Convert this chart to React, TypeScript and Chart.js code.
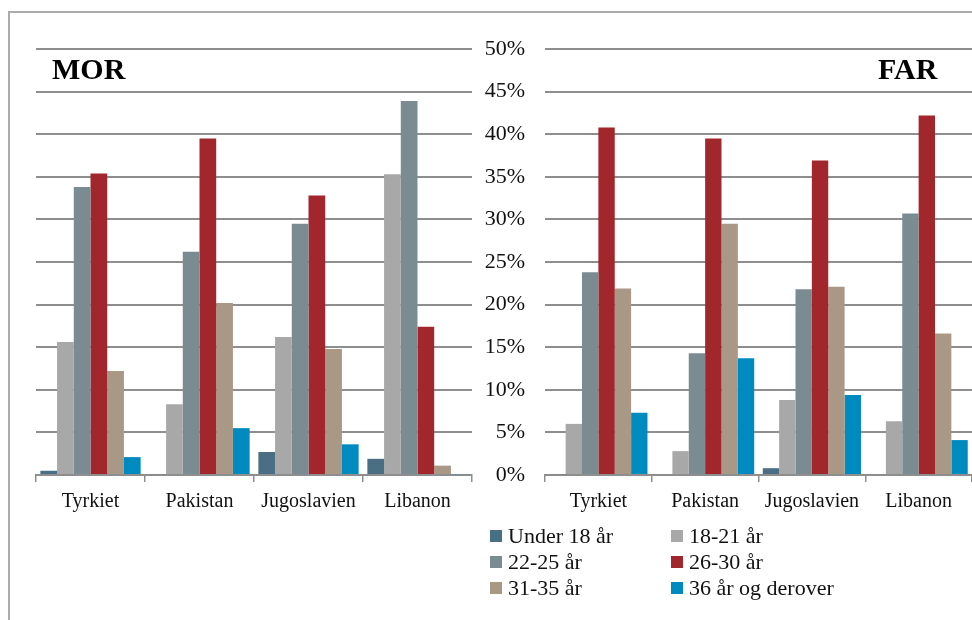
import React, { useEffect, useRef } from "react";
import { Chart, registerables } from "chart.js";

Chart.register(...registerables);

const categories = ["Tyrkiet", "Pakistan", "Jugoslavien", "Libanon"];
const seriesLabels = ["Under 18 år", "18-21 år", "22-25 år", "26-30 år", "31-35 år", "36 år og derover"];
const seriesColors = ["#4a6f84", "#a8a8a8", "#7a8b92", "#a2272d", "#a99886", "#008bc0"];

// MOR (mothers)
const morUnder18 = [0.5, 0.1, 2.7, 1.9];
const mor18to21 = [15.6, 8.3, 16.2, 35.3];
const mor22to25 = [33.8, 26.2, 29.5, 43.9];
const mor26to30 = [35.4, 39.5, 32.8, 17.4];
const mor31to35 = [12.2, 20.2, 14.8, 1.1];
const mor36plus = [2.1, 5.5, 3.6, 0.1];

// FAR (fathers)
const farUnder18 = [0.1, 0, 0.8, 0];
const far18to21 = [6.0, 2.8, 8.8, 6.3];
const far22to25 = [23.8, 14.3, 21.8, 30.7];
const far26to30 = [40.8, 39.5, 36.9, 42.2];
const far31to35 = [21.9, 29.5, 22.1, 16.6];
const far36plus = [7.3, 13.7, 9.4, 4.1];

const yTicks = [0, 5, 10, 15, 20, 25, 30, 35, 40, 45, 50];

const FONT = "'Liberation Serif', 'Times New Roman', serif";
const GRID = "#8e8e8e";

function buildConfig(series: number[][], showY: boolean, padLeft: number, padRight: number, yWidth: number): any {
  return {
    type: "bar",
    data: {
      labels: categories,
      datasets: series.map((d, i) => ({
        label: seriesLabels[i],
        data: d,
        backgroundColor: seriesColors[i],
        borderWidth: 0,
        categoryPercentage: 0.92,
        barPercentage: 1.0,
      })),
    },
    options: {
      responsive: false,
      animation: false,
      layout: { padding: { left: padLeft, right: padRight, top: 49, bottom: 0 } },
      plugins: { legend: { display: false }, tooltip: { enabled: false }, title: { display: false } },
      scales: {
        x: {
          grid: {
            display: true,
            offset: true,
            drawOnChartArea: false,
            drawTicks: true,
            tickLength: 7,
            color: GRID,
            lineWidth: 1.5,
          },
          border: { display: true, color: GRID, width: 2 },
          ticks: { color: "#111", font: { family: FONT, size: 20 }, padding: 8, maxRotation: 0 },
          afterFit: (s: any) => {
            s.height = 145;
          },
        },
        y: {
          min: 0,
          max: 50,
          afterBuildTicks: (s: any) => {
            s.ticks = yTicks.map((v) => ({ value: v }));
          },
          grid: { color: GRID, lineWidth: 2, drawTicks: false },
          border: { display: false },
          ticks: {
            display: showY,
            padding: 20,
            color: "#111",
            font: { family: FONT, size: 22 },
            callback: (v: any) => v + "%",
          },
          afterFit: (s: any) => {
            s.width = yWidth;
          },
        },
      },
    },
  };
}

function ChartCanvas(props: { series: number[][]; showY: boolean; padLeft: number; padRight: number; yWidth: number; width: number; left: number }) {
  const ref = useRef<HTMLCanvasElement | null>(null);
  useEffect(() => {
    if (!ref.current) return;
    const chart = new Chart(ref.current, buildConfig(props.series, props.showY, props.padLeft, props.padRight, props.yWidth));
    return () => chart.destroy();
  }, []);
  return (
    <canvas
      ref={ref}
      width={props.width}
      height={620}
      style={{ position: "absolute", left: props.left, top: 0, width: props.width, height: 620 }}
    />
  );
}

const legendRows = [
  [0, 1],
  [2, 3],
  [4, 5],
];
const legendBaselines = [543, 569, 595];

export default function App() {
  return (
    <div style={{ position: "absolute", left: 0, top: 0, width: 972, height: 620, overflow: "hidden", background: "#fff" }}>
      <div
        style={{
          position: "absolute",
          left: 8,
          top: 11,
          width: 1100,
          height: 800,
          borderLeft: "2px solid #ababab",
          borderTop: "2px solid #ababab",
        }}
      />
      <ChartCanvas
        series={[morUnder18, mor18to21, mor22to25, mor26to30, mor31to35, mor36plus]}
        showY={false}
        padLeft={36}
        padRight={8}
        yWidth={0}
        width={480}
        left={0}
      />
      <ChartCanvas
        series={[farUnder18, far18to21, far22to25, far26to30, far31to35, far36plus]}
        showY={true}
        padLeft={0}
        padRight={10}
        yWidth={73}
        width={510}
        left={472}
      />
      <div style={{ position: "absolute", left: 52, top: 54, font: `bold 30px ${FONT}`, lineHeight: "30px", color: "#000" }}>MOR</div>
      <div style={{ position: "absolute", left: 878, top: 54, font: `bold 30px ${FONT}`, lineHeight: "30px", color: "#000" }}>FAR</div>
      {legendRows.map((row, r) =>
        row.map((idx, c) => {
          const bx = c === 0 ? 490 : 671;
          const base = legendBaselines[r];
          return (
            <React.Fragment key={idx}>
              <div style={{ position: "absolute", left: bx, top: base - 13, width: 12, height: 12, background: seriesColors[idx] }} />
              <div
                style={{
                  position: "absolute",
                  left: bx + 18,
                  top: base - 18.4,
                  font: `22px ${FONT}`,
                  lineHeight: "22px",
                  color: "#111",
                  whiteSpace: "nowrap",
                }}
              >
                {seriesLabels[idx]}
              </div>
            </React.Fragment>
          );
        })
      )}
    </div>
  );
}
